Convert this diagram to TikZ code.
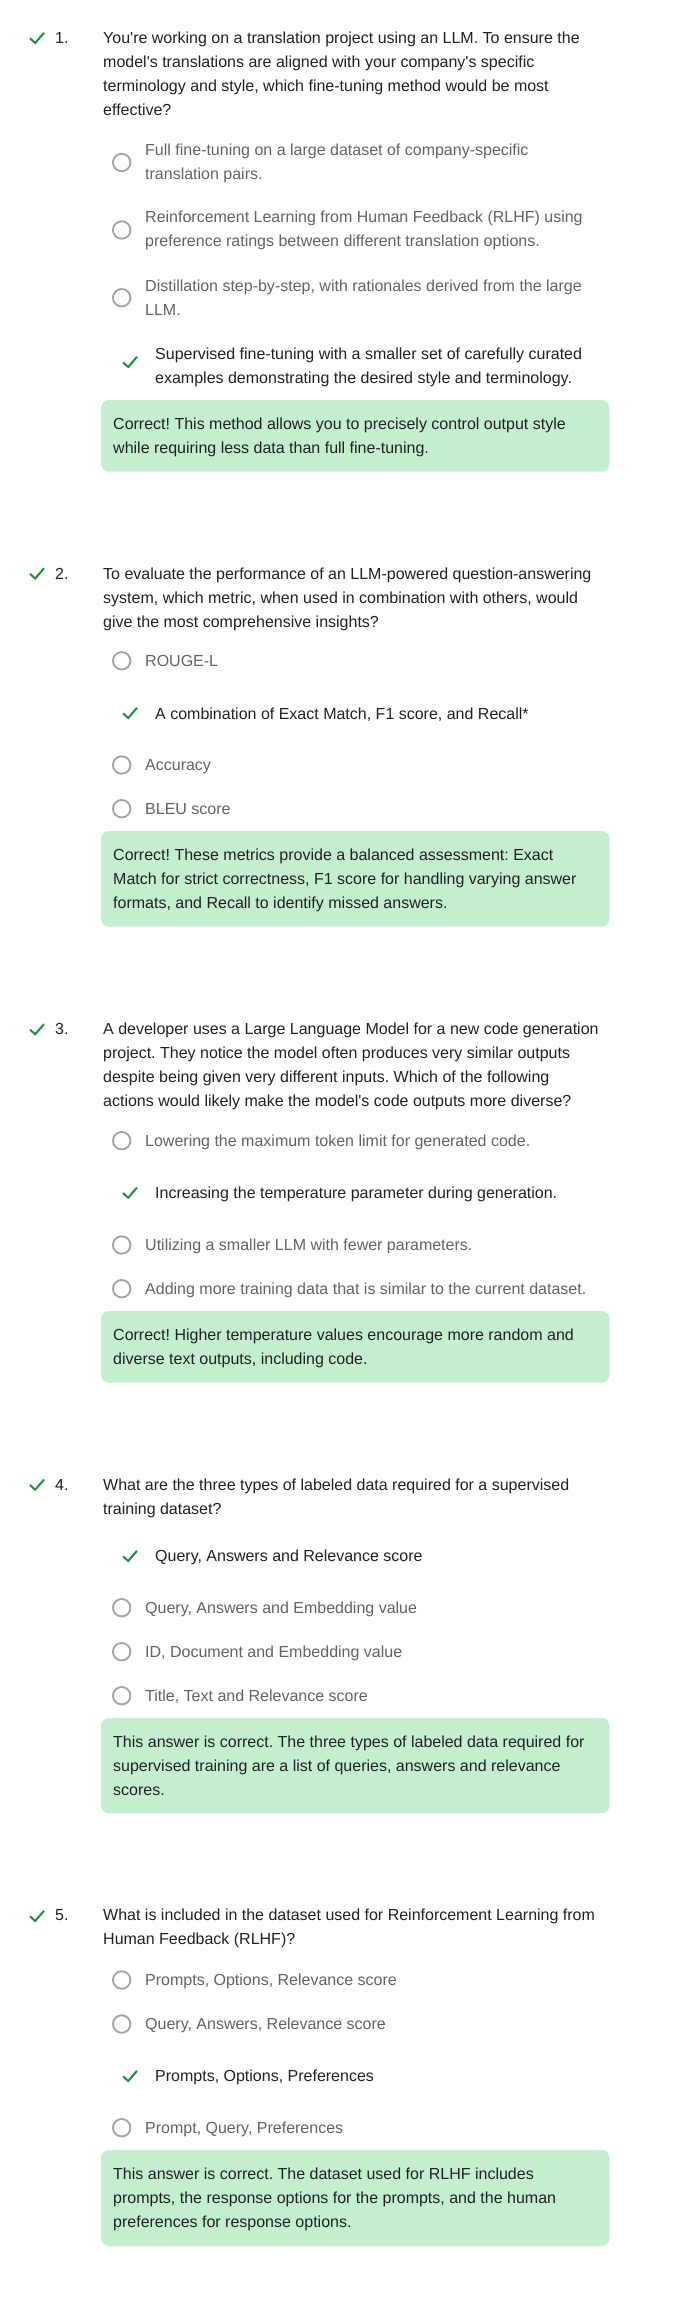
\documentclass[tikz,border=0pt]{standalone}
\usepackage{fontspec}
\setmainfont{Liberation Sans}[Ligatures=TeXOff]
\newcommand\qfont{\fontsize{16}{24}\selectfont\frenchspacing}
\definecolor{qcol}{HTML}{202124}
\definecolor{ocol}{HTML}{5F6368}
\definecolor{rcol}{HTML}{A2A2A2}
\definecolor{gcol}{HTML}{1E8E3E}
\definecolor{bcol}{HTML}{C4EED0}
\tikzset{
  qt/.style={anchor=base west, inner sep=0pt, text=qcol, font=\qfont},
  ot/.style={qt, text=ocol},
  radio/.style={circle, draw=rcol, line width=1.8pt, minimum size=17.5pt, inner sep=0pt},
  chkline/.style={draw=gcol, line width=2pt},
  fbbox/.style={fill=bcol, rounded corners=8pt},
  chk/.pic={\draw[chkline] (-7,0.3) -- (-1.8,5) -- (7,-5.2);}
}
\begin{document}
\frenchspacing
\begin{tikzpicture}[x=1pt, y=-1pt]
\useasboundingbox (0,0) rectangle (674,2303);
\fill[white] (0,0) rectangle (674,2303);

% ---------------- Question 1
\pic at (37,38) {chk};
\node[qt] (n1) at (55,43.5) {1.};
\node[qt] (q1a) at (103,43.5) {You're working on a translation project using an LLM. To ensure the};
\node[qt] (q1b) at (103,67.5) {model's translations are aligned with your company's specific};
\node[qt] (q1c) at (103,91.5) {terminology and style, which fine-tuning method would be most};
\node[qt] (q1d) at (103,115.5) {effective?};
\node[radio] (r11) at (121.7,162.5) {};
\node[ot] (o11a) at (145,155) {Full fine-tuning on a large dataset of company-specific};
\node[ot] (o11b) at (145,179) {translation pairs.};
\node[radio] (r12) at (121.7,230) {};
\node[ot] (o12a) at (145,222.7) {Reinforcement Learning from Human Feedback (RLHF) using};
\node[ot] (o12b) at (145,246.7) {preference ratings between different translation options.};
\node[radio] (r13) at (121.7,297.7) {};
\node[ot] (o13a) at (145,291) {Distillation step-by-step, with rationales derived from the large};
\node[ot] (o13b) at (145,315) {LLM.};
\pic at (130,362) {chk};
\node[qt] (o14a) at (155,359.5) {Supervised fine-tuning with a smaller set of carefully curated};
\node[qt] (o14b) at (155,383.5) {examples demonstrating the desired style and terminology.};
\fill[fbbox] (101,400) rectangle (609.5,471.7);
\node[qt] (f1a) at (113,429.3) {Correct! This method allows you to precisely control output style};
\node[qt] (f1b) at (113,453.3) {while requiring less data than full fine-tuning.};

% ---------------- Question 2
\pic at (37,573.5) {chk};
\node[qt] (n2) at (55,579.3) {2.};
\node[qt] (q2a) at (103,579.3) {To evaluate the performance of an LLM-powered question-answering};
\node[qt] (q2b) at (103,603.3) {system, which metric, when used in combination with others, would};
\node[qt] (q2c) at (103,627.3) {give the most comprehensive insights?};
\node[radio] (r21) at (121.7,660.8) {};
\node[ot] (o21) at (145,666.7) {ROUGE-L};
\pic at (130,713) {chk};
\node[qt] (o22) at (155,719.2) {A combination of Exact Match, F1 score, and Recall*};
\node[radio] (r23) at (121.7,765) {};
\node[ot] (o23) at (145,770.7) {Accuracy};
\node[radio] (r24) at (121.7,808.7) {};
\node[ot] (o24) at (145,814.3) {BLEU score};
\fill[fbbox] (101,831) rectangle (609.5,926.7);
\node[qt] (f2a) at (113,860.7) {Correct! These metrics provide a balanced assessment: Exact};
\node[qt] (f2b) at (113,884.7) {Match for strict correctness, F1 score for handling varying answer};
\node[qt] (f2c) at (113,908.7) {formats, and Recall to identify missed answers.};

% ---------------- Question 3
\pic at (37,1029.3) {chk};
\node[qt] (n3) at (55,1034.3) {3.};
\node[qt] (q3a) at (103,1034.3) {A developer uses a Large Language Model for a new code generation};
\node[qt] (q3b) at (103,1058.3) {project. They notice the model often produces very similar outputs};
\node[qt] (q3c) at (103,1082.3) {despite being given very different inputs. Which of the following};
\node[qt] (q3d) at (103,1106.3) {actions would likely make the model's code outputs more diverse?};
\node[radio] (r31) at (121.7,1140.7) {};
\node[ot] (o31) at (145,1146.7) {Lowering the maximum token limit for generated code.};
\pic at (130,1192.7) {chk};
\node[qt] (o32) at (155,1198.9) {Increasing the temperature parameter during generation.};
\node[radio] (r33) at (121.7,1245) {};
\node[ot] (o33) at (145,1250.7) {Utilizing a smaller LLM with fewer parameters.};
\node[radio] (r34) at (121.7,1288.7) {};
\node[ot] (o34) at (145,1294.7) {Adding more training data that is similar to the current dataset.};
\fill[fbbox] (101,1311) rectangle (609.5,1382.7);
\node[qt] (f3a) at (113,1340.7) {Correct! Higher temperature values encourage more random and};
\node[qt] (f3b) at (113,1364.7) {diverse text outputs, including code.};

% ---------------- Question 4
\pic at (37,1484.7) {chk};
\node[qt] (n4) at (55,1490) {4.};
\node[qt] (q4a) at (103,1490) {What are the three types of labeled data required for a supervised};
\node[qt] (q4b) at (103,1514) {training dataset?};
\pic at (130,1556) {chk};
\node[qt] (o41) at (155,1561.8) {Query, Answers and Relevance score};
\node[radio] (r42) at (121.7,1607.7) {};
\node[ot] (o42) at (145,1613.3) {Query, Answers and Embedding value};
\node[radio] (r43) at (121.7,1651.7) {};
\node[ot] (o43) at (145,1657.3) {ID, Document and Embedding value};
\node[radio] (r44) at (121.7,1695.7) {};
\node[ot] (o44) at (145,1701.3) {Title, Text and Relevance score};
\fill[fbbox] (101,1718) rectangle (609.5,1813.3);
\node[qt] (f4a) at (113,1747.3) {This answer is correct. The three types of labeled data required for};
\node[qt] (f4b) at (113,1771.3) {supervised training are a list of queries, answers and relevance};
\node[qt] (f4c) at (113,1795.3) {scores.};

% ---------------- Question 5
\pic at (37,1916) {chk};
\node[qt] (n5) at (55,1920.7) {5.};
\node[qt] (q5a) at (103,1920.7) {What is included in the dataset used for Reinforcement Learning from};
\node[qt] (q5b) at (103,1944.7) {Human Feedback (RLHF)?};
\node[radio] (r51) at (121.7,1980) {};
\node[ot] (o51) at (145,1985.3) {Prompts, Options, Relevance score};
\node[radio] (r52) at (121.7,2024) {};
\node[ot] (o52) at (145,2029.3) {Query, Answers, Relevance score};
\pic at (130,2076) {chk};
\node[qt] (o53) at (155,2081.6) {Prompts, Options, Preferences};
\node[radio] (r54) at (121.7,2127.7) {};
\node[ot] (o54) at (145,2133.3) {Prompt, Query, Preferences};
\fill[fbbox] (101,2150) rectangle (609.5,2246);
\node[qt] (f5a) at (113,2179.3) {This answer is correct. The dataset used for RLHF includes};
\node[qt] (f5b) at (113,2203.3) {prompts, the response options for the prompts, and the human};
\node[qt] (f5c) at (113,2227.3) {preferences for response options.};
\end{tikzpicture}
\end{document}
